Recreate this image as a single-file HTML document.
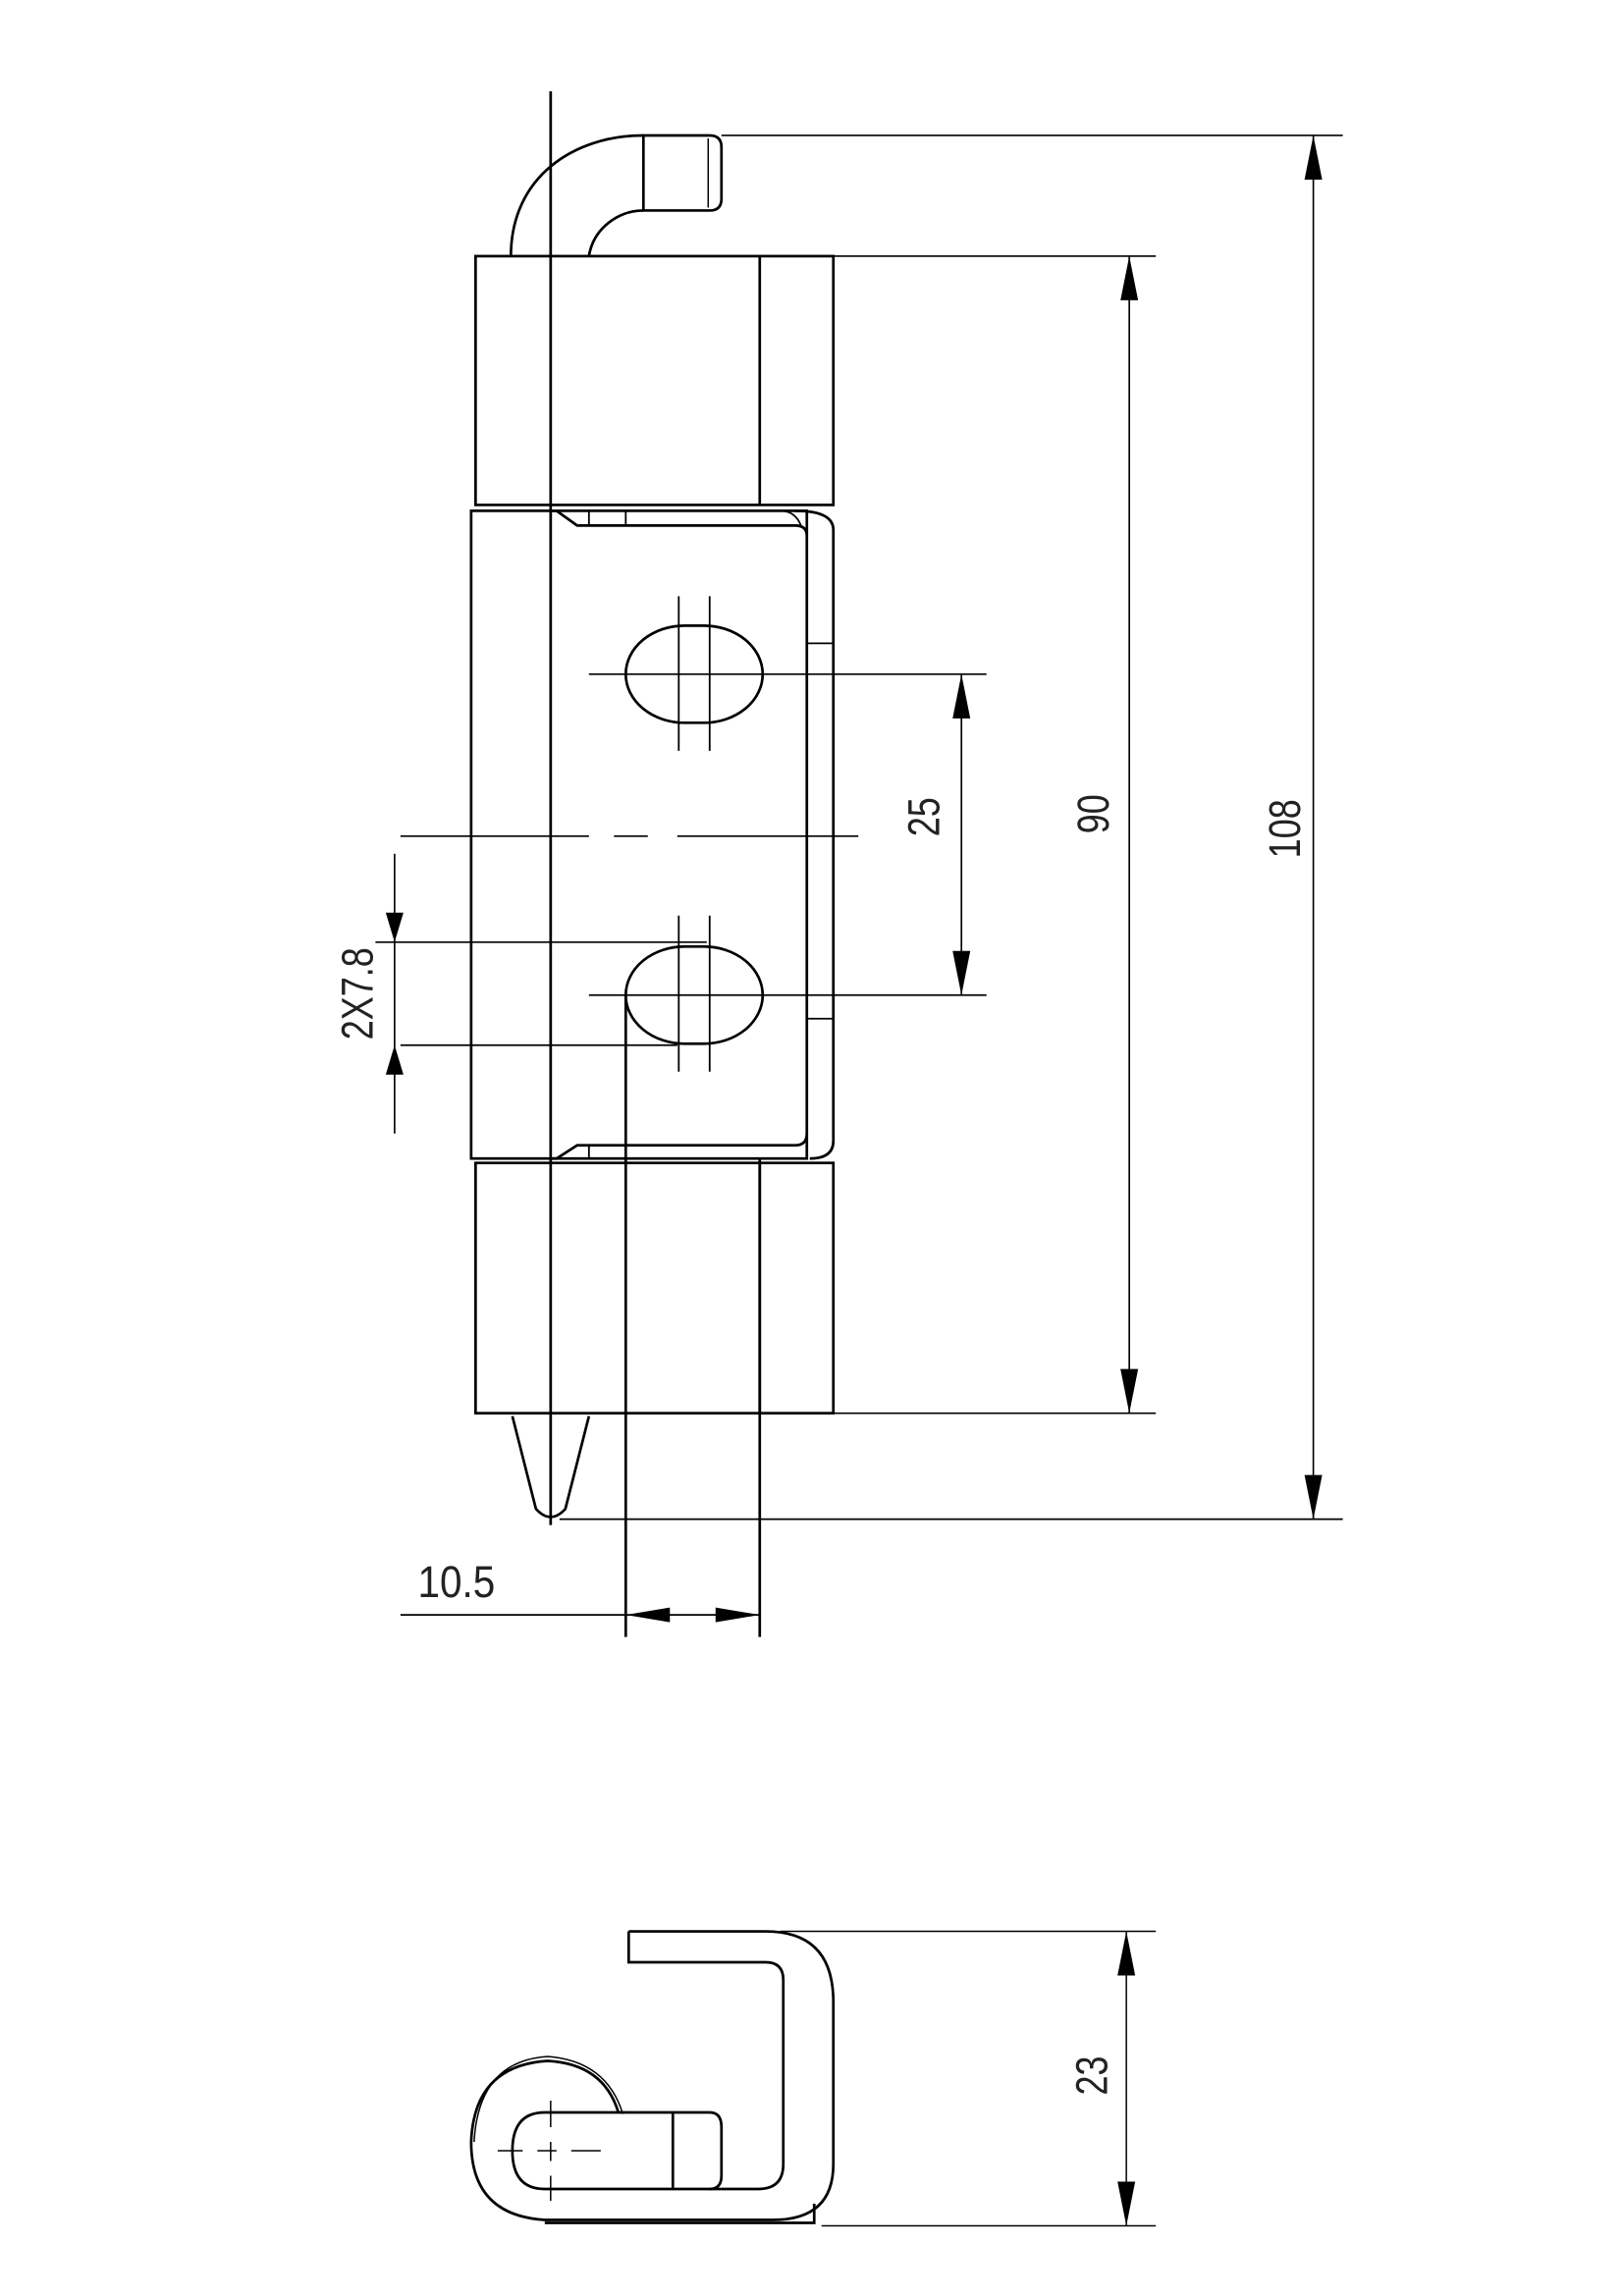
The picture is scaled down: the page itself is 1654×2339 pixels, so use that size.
<!DOCTYPE html>
<html><head><meta charset="utf-8"><style>
html,body{margin:0;padding:0;background:#fff;}
svg{display:block;}
text{font-family:"Liberation Sans",sans-serif;fill:#222;font-weight:normal;}
</style></head><body>
<svg width="1654" height="2339" viewBox="0 0 1103 1559.7" preserveAspectRatio="none" xmlns="http://www.w3.org/2000/svg">
<g fill="none" stroke="#000" stroke-width="1.8">
<path d="M347 174 C347 120 390 92 437 92"/>
<path d="M400 174 C403 155 420 143 437 143"/>
<path d="M437 92 H482 Q490 92 490 100 V135 Q490 143 482 143 H437 Z"/>
<line x1="481" y1="94" x2="481" y2="141" stroke-width="1"/>
<rect x="323" y="174" width="243" height="169"/>
<line x1="516" y1="174" x2="516" y2="343"/>
<rect x="320" y="347" width="228" height="440"/>
<path d="M374 347 H378 L392 357 H540 Q548 357 548 364"/>
<path d="M374 787 H378 L392 778 H540 Q548 778 548 770"/>
<path d="M400 347 H530 Q540 347 544 357" stroke-width="1.2"/>
<line x1="425" y1="347" x2="425" y2="357" stroke-width="1.2"/>
<line x1="400" y1="347" x2="400" y2="357" stroke-width="1.2"/>
<path d="M540 347 Q566 347 566 360 V775 Q566 787 550 787"/>
<line x1="548" y1="437" x2="566" y2="437" stroke-width="1.2"/>
<line x1="548" y1="692" x2="566" y2="692" stroke-width="1.2"/>
<path d="M400 778 V787 M425 778 V787" stroke-width="1.2"/>
<rect x="425" y="425" width="93" height="66" rx="40" ry="33"/>
<rect x="425" y="643" width="93" height="66" rx="40" ry="33"/>
<rect x="323" y="790" width="243" height="170"/>
<line x1="516" y1="790" x2="516" y2="960"/>
<path d="M348 962 L364 1025 Q374 1036 384 1025 L400 962"/>
<line x1="374" y1="62" x2="374" y2="1036"/>
<g stroke-width="1.2">
<line x1="461" y1="405" x2="461" y2="510"/><line x1="482" y1="405" x2="482" y2="510"/>
<line x1="461" y1="622" x2="461" y2="728"/><line x1="482" y1="622" x2="482" y2="728"/>
</g>
</g>
<g fill="none" stroke="#000" stroke-width="1.1">
<line x1="490" y1="92" x2="912" y2="92"/>
<line x1="380" y1="1032" x2="912" y2="1032"/>
<line x1="566" y1="174" x2="785" y2="174"/>
<line x1="566" y1="960" x2="785" y2="960"/>
<line x1="892" y1="92" x2="892" y2="1032"/>
<line x1="767" y1="174" x2="767" y2="960"/>
<line x1="400" y1="458" x2="670" y2="458"/>
<line x1="400" y1="676" x2="670" y2="676"/>
<line x1="653" y1="458" x2="653" y2="676"/>
<path d="M272 568 H400 M417 568 H440 M460 568 H583"/>
<line x1="255" y1="640" x2="480" y2="640"/>
<line x1="272" y1="710" x2="460" y2="710"/>
<line x1="268" y1="580" x2="268" y2="770"/>
<line x1="425" y1="676" x2="425" y2="1112" stroke-width="1.8"/>
<line x1="516" y1="787" x2="516" y2="1112" stroke-width="1.8"/>
<line x1="272" y1="1097" x2="516" y2="1097"/>
</g>
<g fill="#000">
<path d="M892 92 l-6 30 h12z"/><path d="M892 1032 l-6 -30 h12z"/>
<path d="M767 174 l-6 30 h12z"/><path d="M767 960 l-6 -30 h12z"/>
<path d="M653 458 l-6 30 h12z"/><path d="M653 676 l-6 -30 h12z"/>
<path d="M268 640 l-6 -20 h12z"/><path d="M268 710 l-6 20 h12z"/>
<path d="M425 1097 l30 -5 v10z"/><path d="M516 1097 l-30 -5 v10z"/>
</g>
<g font-size="30">
<text transform="translate(883,563) rotate(-90) scale(0.8,1)" text-anchor="middle">108</text>
<text transform="translate(753,553) rotate(-90) scale(0.8,1)" text-anchor="middle">90</text>
<text transform="translate(638,555) rotate(-90) scale(0.8,1)" text-anchor="middle">25</text>
<text transform="translate(253,675) rotate(-90) scale(0.8,1)" text-anchor="middle">2X7.8</text>
<text transform="translate(310,1085) scale(0.9,1)" text-anchor="middle">10.5</text>
<text transform="translate(752,1410) rotate(-90) scale(0.8,1)" text-anchor="middle">23</text>
</g>
<g fill="none" stroke="#000" stroke-width="1.8">
<path d="M427 1312 H520 Q566 1312 566 1360 V1470 Q566 1508 525 1508 H370 Q320 1505 320 1455 Q322 1403 372 1400 Q410 1402 420 1435"/>
<path d="M322 1455 Q325 1400 372 1397 Q412 1400 423 1436" stroke-width="1"/>
<path d="M427 1312 V1333 H520 Q532 1333 532 1345 V1470 Q532 1487 515 1487 H490"/>
<path d="M433 1435 H370 Q348 1435 348 1461 Q348 1487 370 1487 H490"/>
<path d="M433 1435 H482 Q490 1435 490 1445 V1478 Q490 1487 482 1487"/>
<line x1="457" y1="1435" x2="457" y2="1487"/>
<path d="M370 1510 H553 V1497"/>
</g>
<g fill="none" stroke="#000" stroke-width="1">
<line x1="530" y1="1312" x2="785" y2="1312"/>
<line x1="558" y1="1512" x2="785" y2="1512"/>
<line x1="765" y1="1312" x2="765" y2="1512"/>
<path d="M338 1461 H355 M365 1461 H378 M388 1461 H408" />
<path d="M374 1427 V1445 M374 1455 V1468 M374 1478 V1495"/>
</g>
<g fill="#000">
<path d="M765 1312 l-6 30 h12z"/><path d="M765 1512 l-6 -30 h12z"/>
</g>
</svg>
</body></html>
